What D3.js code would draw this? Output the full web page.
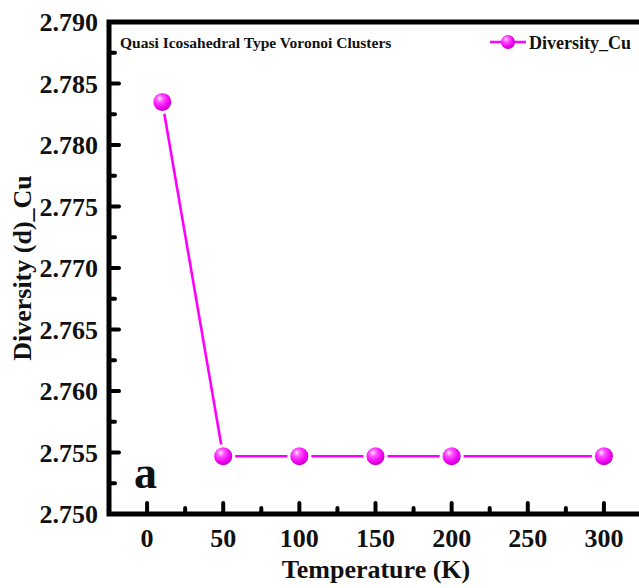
<!DOCTYPE html>
<html>
<head>
<meta charset="utf-8">
<script src="https://cdn.jsdelivr.net/npm/d3@7"></script>
<style>
  html, body { margin: 0; padding: 0; background: #fff; }
  svg { display: block; }
  text { font-family: "Liberation Serif", "Times New Roman", serif; font-weight: bold; fill: #111; }
</style>
</head>
<body>
<script>
// Temperature (K) and Cu diversity of quasi-icosahedral Voronoi clusters
const temperatures = [10, 50, 100, 150, 200, 300];
const diversityCu = [2.7835, 2.7547, 2.7547, 2.7547, 2.7547, 2.7547];
const xTickValues = [0, 50, 100, 150, 200, 250, 300];
const yTickValues = [2.750, 2.755, 2.760, 2.765, 2.770, 2.775, 2.780, 2.785, 2.790];

const W = 639, H = 588;
const svg = d3.select("body").append("svg").attr("width", W).attr("height", H);

const x = d3.scaleLinear().domain([-25, 325]).range([109, 642]);
const y = d3.scaleLinear().domain([2.750, 2.790]).range([514, 22]);

const magenta = "#ff00ff";

// Sphere-like marker shading
const defs = svg.append("defs");
const grad = defs.append("radialGradient").attr("id", "ball")
  .attr("cx", "40%").attr("cy", "35%").attr("r", "65%").attr("fx", "35%").attr("fy", "30%");
grad.append("stop").attr("offset", "0%").attr("stop-color", "#ffe6ff");
grad.append("stop").attr("offset", "30%").attr("stop-color", "#ff55ff");
grad.append("stop").attr("offset", "75%").attr("stop-color", "#f200f2");
grad.append("stop").attr("offset", "100%").attr("stop-color", "#c000c8");

// Frame
const x0 = x.range()[0], x1 = x.range()[1], yTop = y.range()[1], yBot = y.range()[0];
svg.append("path")
  .attr("d", `M${x1},${yTop} L${x0},${yTop} L${x0},${yBot} L${x1},${yBot}`)
  .attr("fill", "none").attr("stroke", "#000").attr("stroke-width", 5);

// Inward ticks
const tickG = svg.append("g").attr("stroke", "#000").attr("stroke-width", 4).attr("stroke-linecap", "round");
const xMinor = d3.range(25, 325, 50);
xTickValues.forEach(v => tickG.append("line").attr("x1", x(v)).attr("x2", x(v)).attr("y1", yBot).attr("y2", yBot - 11));
xMinor.forEach(v => tickG.append("line").attr("x1", x(v)).attr("x2", x(v)).attr("y1", yBot).attr("y2", yBot - 6));
const yMinor = d3.range(2.7525, 2.790, 0.005);
yTickValues.slice(1, -1).forEach(v => tickG.append("line").attr("x1", x0).attr("x2", x0 + 10).attr("y1", y(v)).attr("y2", y(v)));
yMinor.forEach(v => tickG.append("line").attr("x1", x0).attr("x2", x0 + 6).attr("y1", y(v)).attr("y2", y(v)));

// Tick labels
svg.append("g").selectAll("text").data(yTickValues).join("text")
  .attr("x", 98).attr("y", d => y(d)).attr("dy", "0.35em")
  .attr("text-anchor", "end").attr("font-size", 26)
  .text(d => d3.format(".3f")(d));
svg.append("g").selectAll("text").data(xTickValues).join("text")
  .attr("x", d => x(d)).attr("y", 547)
  .attr("text-anchor", "middle").attr("font-size", 26)
  .text(d => d);

// Axis titles
svg.append("text").attr("x", 376).attr("y", 578).attr("text-anchor", "middle")
  .attr("font-size", 26).text("Temperature (K)");
svg.append("text").attr("transform", `translate(31,${(yTop + yBot) / 2}) rotate(-90)`)
  .attr("text-anchor", "middle").attr("font-size", 26).text("Diversity (d)_Cu");

// Panel label and caption
svg.append("text").attr("x", 134).attr("y", 488).attr("font-size", 46).text("a");
svg.append("text").attr("x", 120).attr("y", 48).attr("font-size", 15.5).text("Quasi Icosahedral Type Voronoi Clusters");

// Series line
const pts = temperatures.map((t, i) => [t, diversityCu[i]]);
svg.append("path").datum(pts)
  .attr("d", d3.line().x(d => x(d[0])).y(d => y(d[1])))
  .attr("fill", "none").attr("stroke", magenta).attr("stroke-width", 2.6);

// Markers with a small white gap around each
const mk = svg.append("g").selectAll("g").data(pts).join("g")
  .attr("transform", d => `translate(${x(d[0])},${y(d[1])})`);
mk.append("circle").attr("r", 12).attr("fill", "#fff");
mk.append("circle").attr("r", 9).attr("fill", "url(#ball)");

// Legend
const lg = svg.append("g").attr("transform", "translate(490,42)");
lg.append("line").attr("x1", 0).attr("x2", 36).attr("stroke", magenta).attr("stroke-width", 2.6);
lg.append("circle").attr("cx", 18).attr("r", 7).attr("fill", "url(#ball)");
lg.append("text").attr("x", 39).attr("y", 7).attr("font-size", 18).text("Diversity_Cu");
</script>
</body>
</html>
